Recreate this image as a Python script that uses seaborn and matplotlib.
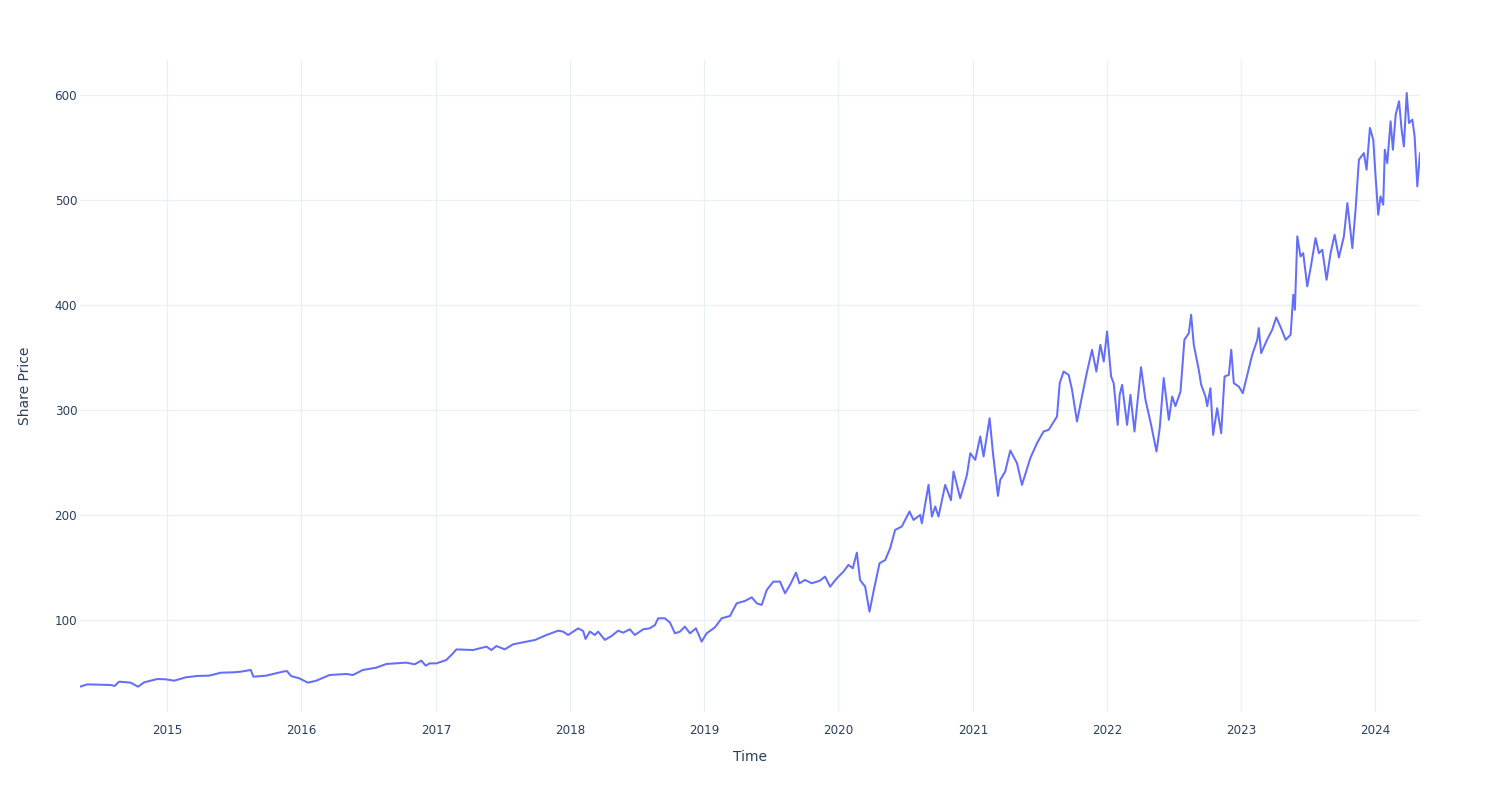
import numpy as np
import pandas as pd
import matplotlib
matplotlib.use("Agg")
import matplotlib.pyplot as plt
import matplotlib.dates as mdates
import seaborn as sns

time_years = [
    2014.349, 2014.403, 2014.577, 2014.607, 2014.640, 2014.727, 2014.781, 2014.826,
    2014.925, 2014.988, 2015.050, 2015.137, 2015.224, 2015.311, 2015.398, 2015.497,
    2015.547, 2015.621, 2015.641, 2015.736, 2015.860, 2015.890, 2015.922, 2015.984,
    2016.046, 2016.109, 2016.208, 2016.332, 2016.382, 2016.456, 2016.556, 2016.631,
    2016.705, 2016.780, 2016.842, 2016.892, 2016.924, 2016.954, 2017.004, 2017.078,
    2017.128, 2017.153, 2017.277, 2017.377, 2017.414, 2017.451, 2017.513, 2017.575,
    2017.675, 2017.737, 2017.824, 2017.911, 2017.948, 2017.985, 2018.060, 2018.097,
    2018.115, 2018.147, 2018.184, 2018.209, 2018.259, 2018.309, 2018.358, 2018.395,
    2018.445, 2018.482, 2018.544, 2018.594, 2018.632, 2018.656, 2018.706, 2018.744,
    2018.781, 2018.818, 2018.855, 2018.893, 2018.937, 2018.980, 2019.017, 2019.079,
    2019.129, 2019.191, 2019.241, 2019.303, 2019.353, 2019.390, 2019.427, 2019.465,
    2019.514, 2019.564, 2019.601, 2019.638, 2019.683, 2019.708, 2019.750, 2019.800,
    2019.862, 2019.899, 2019.937, 2019.987, 2020.036, 2020.073, 2020.106, 2020.136,
    2020.160, 2020.198, 2020.230, 2020.260, 2020.305,
    2020.347, 2020.384, 2020.421, 2020.471, 2020.528, 2020.558, 2020.608, 2020.620,
    2020.670, 2020.695, 2020.720, 2020.744, 2020.794, 2020.837, 2020.856, 2020.906,
    2020.956, 2020.981,
    2021.018, 2021.055, 2021.080, 2021.125, 2021.150, 2021.187, 2021.204, 2021.241,
    2021.279, 2021.329, 2021.366, 2021.428, 2021.478, 2021.527, 2021.565, 2021.627,
    2021.647, 2021.676, 2021.714, 2021.739, 2021.776, 2021.813, 2021.851, 2021.888,
    2021.920, 2021.950, 2021.975, 2022.000, 2022.030, 2022.049, 2022.079, 2022.094,
    2022.112, 2022.149, 2022.174, 2022.204, 2022.253, 2022.286, 2022.328, 2022.368,
    2022.392, 2022.422, 2022.460, 2022.485, 2022.509, 2022.547, 2022.576, 2022.609,
    2022.626, 2022.646, 2022.683, 2022.701, 2022.733, 2022.746, 2022.770, 2022.790,
    2022.820, 2022.850, 2022.875, 2022.907, 2022.925, 2022.944, 2022.981, 2023.011,
    2023.044, 2023.081, 2023.119, 2023.130, 2023.148, 2023.193, 2023.230, 2023.260,
    2023.292, 2023.330, 2023.367, 2023.387, 2023.399, 2023.417, 2023.441, 2023.461,
    2023.491, 2023.516, 2023.553, 2023.578, 2023.603, 2023.635, 2023.665, 2023.695,
    2023.727, 2023.764, 2023.790, 2023.827, 2023.851, 2023.876, 2023.913, 2023.933,
    2023.958, 2023.983, 2024.000, 2024.020, 2024.037, 2024.057, 2024.069, 2024.087,
    2024.112, 2024.129, 2024.150, 2024.175, 2024.194, 2024.211, 2024.232, 2024.249,
    2024.274, 2024.291, 2024.311, 2024.331,
]

share_price = [
    36.5, 38.7, 38.1, 37.2, 41.3, 40.3, 36.5, 40.6,
    43.8, 43.5, 42.2, 45.4, 46.7, 47.0, 49.8, 50.2,
    50.8, 52.4, 46.0, 47.0, 50.8, 51.4, 46.6, 44.4,
    40.3, 42.2, 47.6, 48.6, 47.6, 52.4, 54.6, 58.1,
    58.7, 59.4, 57.8, 61.3, 56.5, 58.7, 58.7, 61.9,
    68.3, 72.0, 71.4, 74.6, 71.4, 75.2, 72.0, 76.8,
    79.4, 80.9, 85.7, 89.8, 88.9, 85.7, 92.0, 89.5,
    81.9, 89.0, 85.7, 88.9, 81.0, 84.8, 89.8, 87.9,
    91.1, 85.7, 91.1, 92.1, 95.2, 101.6, 101.6, 97.5,
    87.3, 88.9, 93.7, 87.3, 92.1, 79.4, 87.3, 93.0,
    101.6, 103.8, 115.9, 118.1, 121.6, 115.9, 114.3, 128.6,
    136.5, 136.5, 125.4, 133.3, 145.1, 134.9, 138.1, 134.9,
    137.5, 141.3, 131.7, 139.7, 146.0, 152.4, 149.2, 164.1,
    138.0, 131.7, 107.9, 127.0, 154.0,
    157.0, 168.3, 185.7, 189.0, 203.2, 195.2, 200.0, 192.0,
    228.6, 198.4, 208.0, 198.4, 228.6, 214.0, 241.3, 215.9,
    238.0, 258.7,
    252.4, 274.6, 255.6, 292.0, 258.7, 218.1, 233.3, 241.3,
    261.3, 249.2, 228.6, 254.0, 268.3, 279.4, 281.0, 293.7,
    325.4, 336.5, 333.3, 319.0, 288.9, 312.7, 336.5, 357.1,
    336.5, 361.9, 346.0, 374.6, 331.7, 325.4, 285.7, 314.3,
    323.8, 285.7, 314.3, 279.4, 340.6, 309.5, 285.7, 260.3,
    282.5, 330.2, 290.5, 312.7, 303.5, 317.5, 366.7, 373.0,
    390.5, 361.9, 338.1, 323.8, 312.7, 303.5, 320.6, 276.2,
    301.6, 277.8, 331.7, 333.3, 357.1, 325.4, 322.2, 315.9,
    333.3, 352.4, 366.7, 377.8, 354.0, 367.0, 376.2, 388.0,
    379.0, 366.7, 371.4, 409.5, 395.2, 465.1, 446.0, 449.2,
    417.5, 434.9, 463.5, 449.2, 452.4, 423.8, 449.2, 466.7,
    445.0, 465.1, 496.8, 454.0, 490.5, 538.1, 544.4, 528.6,
    568.3, 557.1, 522.2, 485.7, 503.2, 495.2, 547.6, 534.9,
    574.6, 547.6, 581.0, 593.7, 566.7, 550.8, 601.6, 573.0,
    576.2, 560.3, 512.7, 544.4,
]

x_title = "Time"
y_title = "Share Price"

# convert decimal years to timestamps
ty = np.array(time_years)
dates = pd.to_datetime("2014-01-01") + pd.to_timedelta((ty - 2014.0) * 365.25, unit="D")
df = pd.DataFrame({"Time": dates, "Share Price": share_price})

sns.set_theme(style="white")
plt.rcParams["font.family"] = ["DejaVu Sans"]

fig = plt.figure(figsize=(15, 8), dpi=100)
ax = fig.add_axes([80 / 1500, 1 - 712 / 800, 1340 / 1500, 652 / 800])

grid_color = "#EBF0F8"
text_color = "#2a3f5f"

sns.lineplot(data=df, x="Time", y="Share Price", ax=ax, color="#636EFA",
             linewidth=1.45, estimator=None, sort=True)

ax.set_xlim(df["Time"].min(), df["Time"].max())
ax.set_ylim(12.4, 633)
ax.set_yticks([100, 200, 300, 400, 500, 600])
ax.xaxis.set_major_locator(mdates.YearLocator())
ax.xaxis.set_major_formatter(mdates.DateFormatter("%Y"))

ax.grid(True, color=grid_color, linewidth=1.0)
ax.set_axisbelow(True)
for s in ax.spines.values():
    s.set_visible(False)

ax.tick_params(axis="both", length=0, labelsize=8.6, labelcolor=text_color)
ax.tick_params(axis="x", pad=9)
ax.tick_params(axis="y", pad=2)

ax.set_xlabel(x_title, fontsize=10, color=text_color, labelpad=9)
ax.set_ylabel(y_title, fontsize=10, color=text_color, labelpad=16)

fig.savefig("out.png", dpi=100, facecolor="white")
